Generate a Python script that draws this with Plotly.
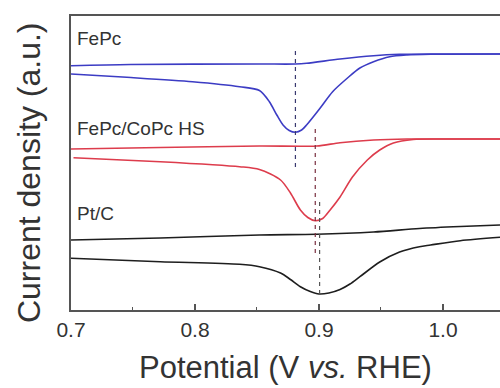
import plotly.graph_objects as go

# Potentials (V vs. RHE) and current densities (a.u., stacked display)
fepc_cath_E = [0.700, 0.745, 0.798, 0.836, 0.852, 0.860, 0.866, 0.871, 0.876, 0.881, 0.886, 0.890, 0.901, 0.911, 0.923, 0.933, 0.944, 0.957, 0.971, 0.990, 1.046]
fepc_cath_j = [23.6, 23.27, 22.83, 22.33, 21.95, 20.83, 19.5, 18.5, 17.95, 17.77, 18.0, 18.5, 20.2, 21.83, 23.2, 24.2, 24.83, 25.33, 25.5, 25.57, 25.6]
fepc_anod_E = [0.700, 0.748, 0.852, 0.881, 0.890, 0.917, 0.944, 0.965, 0.998, 1.046]
fepc_anod_j = [24.43, 24.55, 24.6, 24.6, 24.67, 25.1, 25.43, 25.57, 25.6, 25.6]

hs_cath_E = [0.702, 0.772, 0.836, 0.852, 0.869, 0.877, 0.885, 0.891, 0.897, 0.903, 0.909, 0.917, 0.927, 0.939, 0.949, 0.960, 0.976, 0.998, 1.046]
hs_cath_j = [15.23, 14.83, 14.33, 14.05, 13.0, 11.7, 10.0, 9.25, 8.93, 9.15, 10.0, 11.3, 13.3, 15.0, 16.0, 16.7, 17.05, 17.1, 17.1]
hs_anod_E = [0.700, 0.772, 0.852, 0.898, 0.917, 0.944, 0.971, 0.998, 1.046]
hs_anod_j = [16.1, 16.25, 16.4, 16.4, 16.73, 17.0, 17.1, 17.1, 17.1]

ptc_cath_E = [0.700, 0.772, 0.836, 0.852, 0.869, 0.877, 0.885, 0.893, 0.900, 0.908, 0.917, 0.925, 0.933, 0.949, 0.965, 0.981, 0.990, 1.014, 1.046]
ptc_cath_j = [5.17, 4.83, 4.57, 4.33, 3.7, 3.05, 2.33, 1.85, 1.6, 1.7, 2.05, 2.6, 3.33, 4.8, 5.8, 6.33, 6.5, 6.93, 7.27]
ptc_anod_E = [0.700, 0.772, 0.852, 0.898, 0.944, 0.981, 1.014, 1.046]
ptc_anod_j = [7.0, 7.2, 7.5, 7.57, 7.8, 8.15, 8.35, 8.5]

# Peak markers (dashed guides)
peak_E = [0.881, 0.897, 0.9005]
peak_top = [26.0, 18.3, 11.0]
peak_bot = [14.3, 5.7, 1.6]

labels = ["FePc", "FePc/CoPc HS", "Pt/C"]
label_j = [27.2, 18.2, 9.7]

x_ticks = [0.7, 0.8, 0.9, 1.0]
x_ticktext = ["0.7", "0.8", "0.9", "1.0"]

colors = ["#3c3cc4", "#dd3c4c", "#1e1e1e"]
dash_colors = ["#3a3a70", "#7a3040", "#555555"]

FONT = "Liberation Sans, Arial, sans-serif"

fig = go.Figure()
curves = [
    (fepc_cath_E, fepc_cath_j, fepc_anod_E, fepc_anod_j),
    (hs_cath_E, hs_cath_j, hs_anod_E, hs_anod_j),
    (ptc_cath_E, ptc_cath_j, ptc_anod_E, ptc_anod_j),
]
for i, (ce, cj, ae, aj) in enumerate(curves):
    for xs, ys in ((ce, cj), (ae, aj)):
        fig.add_trace(go.Scatter(x=xs, y=ys, mode="lines",
                                 line=dict(color=colors[i], width=1.6, shape="spline", smoothing=0.8),
                                 showlegend=False, hoverinfo="skip"))
for i in range(3):
    fig.add_trace(go.Scatter(x=[peak_E[i], peak_E[i]], y=[peak_bot[i], peak_top[i]], mode="lines",
                             line=dict(color=dash_colors[i], width=1.2, dash="4px,4px"),
                             showlegend=False, hoverinfo="skip"))

for i in range(3):
    fig.add_annotation(x=0.703, y=label_j[i], xref="x", yref="y", text=labels[i],
                       showarrow=False, xanchor="left", yanchor="middle",
                       font=dict(family=FONT, size=19, color="#333333"))

fig.add_annotation(x=0.5, y=-0.194, xref="paper", yref="paper",
                   text="Potential (V <i>vs.</i> RHE)", showarrow=False,
                   xanchor="center", yanchor="middle",
                   font=dict(family=FONT, size=31, color="#333333"))
fig.add_annotation(x=-0.098, y=0.469, xref="paper", yref="paper",
                   text="Current density (a.u.)", showarrow=False, textangle=-90,
                   xanchor="center", yanchor="middle",
                   font=dict(family=FONT, size=32, color="#333333"))

fig.update_layout(
    width=500, height=388,
    margin=dict(l=71, r=0, t=16, b=78),
    paper_bgcolor="white", plot_bgcolor="white",
    font=dict(family=FONT, color="#333333"),
    xaxis=dict(range=[0.7, 1.046], tickvals=x_ticks, ticktext=x_ticktext,
               ticks="inside", ticklen=6, tickwidth=1.5, tickcolor="#555555",
               minor=dict(dtick=0.05, tick0=0.7, ticks="inside", ticklen=3, tickwidth=1.2, tickcolor="#555555"),
               showline=True, linecolor="#555555", linewidth=1.8, mirror=True,
               showgrid=False, zeroline=False,
               tickfont=dict(family=FONT, size=21, color="#333333")),
    yaxis=dict(range=[0, 29.4], showticklabels=False, ticks="",
               showline=True, linecolor="#555555", linewidth=1.8, mirror=False,
               showgrid=False, zeroline=False),
)

fig.write_html("out.html")
